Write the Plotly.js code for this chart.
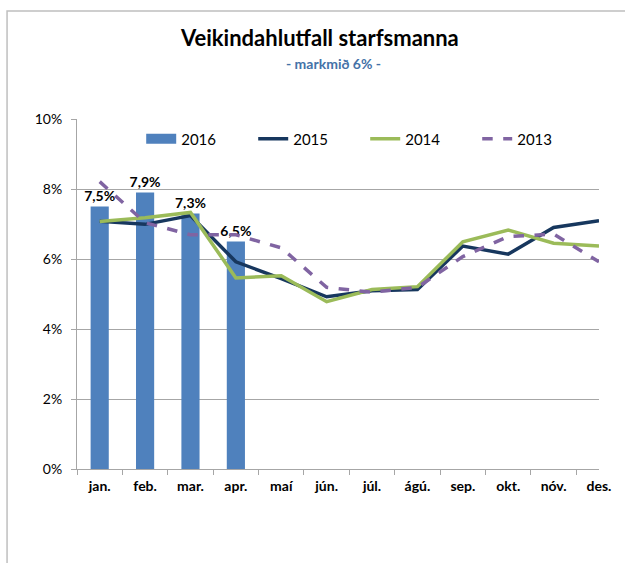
<!DOCTYPE html>
<html><head><meta charset="utf-8">
<script src="https://cdn.plot.ly/plotly-3.0.1.min.js"></script>
<style>html,body{margin:0;padding:0;background:#fff}#chart{width:625px;height:563px}</style>
</head><body><div id="chart"></div>
<script>
const months = ["jan.","feb.","mar.","apr.","maí","jún.","júl.","ágú.","sep.","okt.","nóv.","des."];
const y2016 = [7.5, 7.9, 7.3, 6.5];
const y2015 = [7.08, 6.99, 7.24, 5.92, 5.44, 4.92, 5.09, 5.13, 6.37, 6.14, 6.90, 7.09];
const y2014 = [7.07, 7.18, 7.33, 5.46, 5.52, 4.78, 5.13, 5.21, 6.49, 6.83, 6.45, 6.37];
const y2013 = [8.21, 7.04, 6.69, 6.69, 6.32, 5.19, 5.05, 5.19, 6.07, 6.64, 6.71, 5.92];
const yTicks = [0, 2, 4, 6, 8, 10];
const yTickText = ["0%", "2%", "4%", "6%", "8%", "10%"];

const font = "Lato, 'Open Sans', sans-serif";
const traces = [
  {type:'bar', name:'2016', x: months.slice(0, y2016.length), y: y2016, showlegend:false,
   marker:{color:'#4F81BD'}, text: y2016.map(v => v.toFixed(1).replace('.', ',') + '%'),
   textposition:'outside', cliponaxis:false, constraintext:'none',
   textfont:{family:font, size:14, color:'#000', weight:'bold'}, hoverinfo:'skip'},
  {type:'scatter', mode:'lines', name:'2016', x:[null], y:[null],
   line:{color:'#4F81BD', width:12}, showlegend:true, hoverinfo:'skip'},
  {type:'scatter', mode:'lines', name:'2015', x: months, y: y2015,
   line:{color:'#17375E', width:3.5}},
  {type:'scatter', mode:'lines', name:'2014', x: months, y: y2014,
   line:{color:'#9BBB59', width:3.5}},
  {type:'scatter', mode:'lines', name:'2013', x: months, y: y2013,
   line:{color:'#8064A2', width:3.5, dash:'dash'}}
];

const layout = {
  width:625, height:563,
  margin:{l:77, r:26, t:119, b:94},
  paper_bgcolor:'#fff', plot_bgcolor:'#fff',
  separators:',.',
  bargap:0.6,
  showlegend:true,
  legend:{orientation:'h', x:0.123, y:0.99, xanchor:'left', yanchor:'top',
    font:{family:font, size:15, color:'#000'}, entrywidth:67, entrywidthmode:'pixels',
    bgcolor:'rgba(0,0,0,0)', traceorder:'normal'},
  xaxis:{type:'category', categoryorder:'array', categoryarray:months,
    showgrid:false, showline:true, linecolor:'#A6A6A6', linewidth:1,
    ticks:'outside', ticklen:5, tickcolor:'#A6A6A6', tickson:'boundaries',
    ticklabelstandoff:4,
    tickfont:{family:font, size:14, color:'#000', weight:'bold'}, fixedrange:true},
  yaxis:{range:[0,10], tickvals:yTicks, ticktext:yTickText,
    showgrid:true, gridcolor:'#A6A6A6', gridwidth:1,
    showline:true, linecolor:'#A6A6A6', linewidth:1,
    ticks:'outside', ticklen:5, tickcolor:'#A6A6A6', zeroline:false,
    ticklabelstandoff:6,
    tickfont:{family:font, size:14, color:'#000'}, fixedrange:true},
  annotations:[
    {xref:'paper', yref:'paper', x:0.465, y:1.234, xanchor:'center', yanchor:'middle',
     text:'<b>Veikindahlutfall starfsmanna</b>', showarrow:false,
     font:{family:font, size:22, color:'#000'}},
    {xref:'paper', yref:'paper', x:0.491, y:1.16, xanchor:'center', yanchor:'middle',
     text:'<b>- markmið 6% -</b>', showarrow:false,
     font:{family:font, size:14, color:'#4472A8'}}
  ],
  shapes:[
    {type:'rect', xref:'paper', yref:'paper', x0:-0.134, x1:1.3, y0:-0.5, y1:1.3086,
     line:{color:'#BFBFBF', width:1.5}, fillcolor:'rgba(0,0,0,0)', layer:'below'}
  ]
};
Plotly.newPlot('chart', traces, layout, {displayModeBar:false, staticPlot:true});
</script></body></html>
